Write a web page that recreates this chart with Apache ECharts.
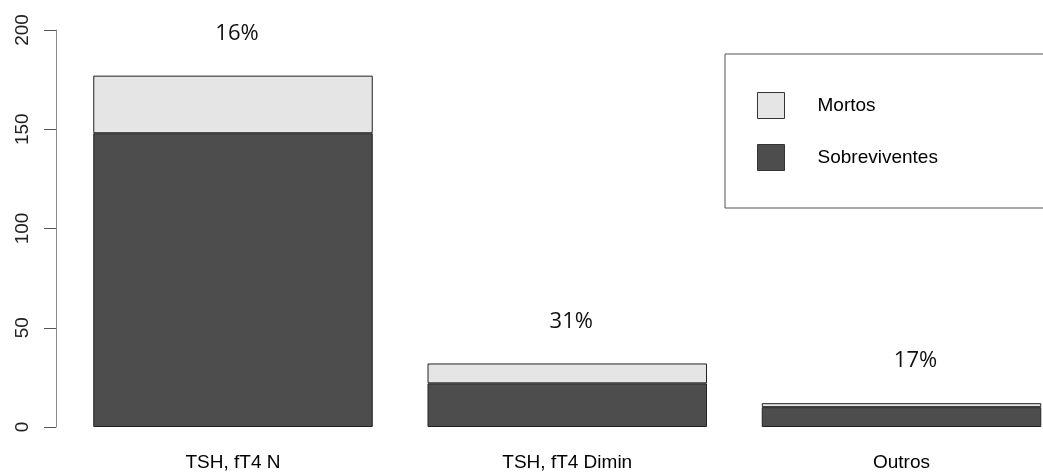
<!DOCTYPE html>
<html>
<head>
<meta charset="utf-8">
<script src="https://cdn.jsdelivr.net/npm/echarts@6/dist/echarts.min.js"></script>
<style>
html,body{margin:0;padding:0;background:#fff;}
#chart{width:1043px;height:472px;}
</style>
</head>
<body>
<div id="chart"></div>
<script>
const categories = ['TSH, fT4 N', 'TSH, fT4 Dimin', 'Outros'];
const sobreviventes = [148, 22, 10];
const mortos = [29, 10, 2];
const pctLabels = ['16%', '31%', '17%'];
const yTicks = [0, 50, 100, 150, 200];

const labelShiftX = [4, 4, 14];

const chart = echarts.init(document.getElementById('chart'), null, {renderer: 'canvas'});
const axisFont = 'Liberation Sans, Arial, sans-serif';

chart.setOption({
  animation: false,
  backgroundColor: '#ffffff',
  grid: {left: 233, top: 30, width: 668.5, height: 398, containLabel: false},
  legend: {
    orient: 'vertical',
    left: 725,
    top: 54,
    data: ['Mortos', 'Sobreviventes'],
    itemWidth: 27,
    itemHeight: 26,
    itemGap: 25,
    padding: [38, 140, 37, 32],
    borderColor: '#555',
    borderWidth: 1,
    borderRadius: 0,
    icon: 'rect',
    selectedMode: false,
    itemStyle: {borderColor: '#333', borderWidth: 1},
    textStyle: {fontFamily: axisFont, fontSize: 19, color: '#000', padding: [0, 0, 0, 28]}
  },
  xAxis: {
    type: 'category',
    data: categories,
    boundaryGap: false,
    axisLine: {show: false},
    axisTick: {show: false},
    axisLabel: {fontFamily: axisFont, fontSize: 19, color: '#000', margin: 26}
  },
  yAxis: {
    type: 'value',
    min: yTicks[0],
    max: yTicks[yTicks.length - 1],
    interval: 50,
    offset: 177,
    splitLine: {show: false},
    axisLine: {show: true, lineStyle: {color: '#888', width: 1}},
    axisTick: {show: true, length: 12, lineStyle: {color: '#555', width: 1}},
    axisLabel: {fontFamily: axisFont, fontSize: 19, color: '#222', rotate: 90, margin: 24}
  },
  series: [
    {
      name: 'Sobreviventes',
      type: 'bar',
      stack: 'total',
      barWidth: 279.5,
      data: sobreviventes,
      itemStyle: {color: '#4D4D4D', borderColor: '#222', borderWidth: 1}
    },
    {
      name: 'Mortos',
      type: 'bar',
      stack: 'total',
      barWidth: 279.5,
      data: mortos.map((v, i) => ({
        value: v,
        label: {offset: [labelShiftX[i], 0]}
      })),
      itemStyle: {color: '#E5E5E5', borderColor: '#222', borderWidth: 1},
      label: {
        show: true,
        position: 'top',
        distance: 31,
        fontFamily: 'Open Sans, sans-serif',
        fontSize: 22,
        color: '#111',
        formatter: p => pctLabels[p.dataIndex]
      }
    }
  ]
});
</script>
</body>
</html>
